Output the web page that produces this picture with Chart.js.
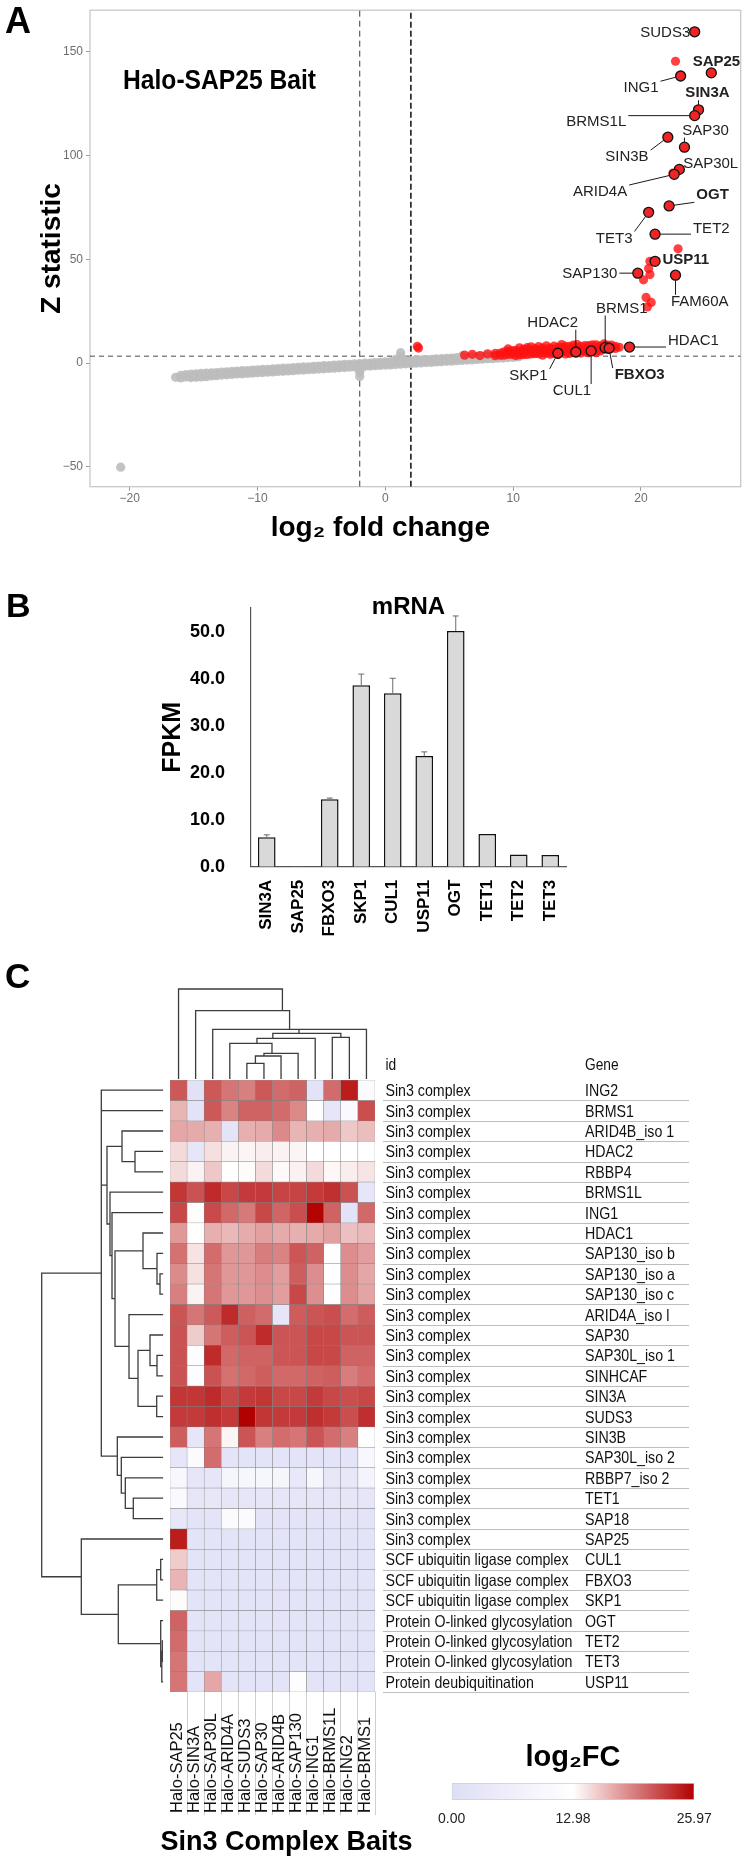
<!DOCTYPE html>
<html>
<head>
<meta charset="utf-8">
<script src="https://cdn.jsdelivr.net/npm/chart.js@4.4.1/dist/chart.umd.min.js"></script>
<style>
  html, body { margin: 0; padding: 0; background: #fff; }
  #page { position: relative; width: 747px; height: 1860px; overflow: hidden; }
  canvas { position: absolute; }
  .tag { position: absolute; font-family: 'Liberation Sans', Arial, sans-serif; font-weight: bold; color: #000; white-space: nowrap; }
</style>
</head>
<body>
<div id="page">
  <canvas id="cA" width="747" height="560" style="left:0;top:0;width:747px;height:560px"></canvas>
  <canvas id="cB" width="747" height="385" style="left:0;top:575px;width:747px;height:385px"></canvas>
  <canvas id="cTop" width="747" height="112" style="left:0;top:970px;width:747px;height:112px"></canvas>
  <canvas id="cLeft" width="175" height="652" style="left:0;top:1060px;width:175px;height:652px"></canvas>
  <canvas id="cHeat" width="747" height="820" style="left:0;top:1040px;width:747px;height:820px"></canvas>
  <canvas id="cBar" width="300" height="100" style="left:420px;top:1730px;width:300px;height:100px"></canvas>

  <div class="tag" style="left:5px;top:3px;font-size:36px;line-height:36px">A</div>
  <div class="tag" style="left:6px;top:588px;font-size:34px;line-height:34px">B</div>
  <div class="tag" style="left:5px;top:958px;font-size:35px;line-height:35px">C</div>
  <div class="tag" style="left:123px;top:66px;font-size:28px;line-height:28px;transform:scaleX(0.88);transform-origin:0 0">Halo-SAP25 Bait</div>
</div>
<script>
const FONT = "'Liberation Sans', Arial, Helvetica, sans-serif";
Chart.defaults.font.family = FONT;
Chart.defaults.color = '#000';

/* ---------- data: panel A (volcano) ---------- */

// each row: [log2 fold change, Z statistic, Z statistic, ...] for the non-enriched proteins
const grayBand = [
  [-20.7,-50.2],[-16.4,-6.9],[-16.0,-7.2,-5.9],[-15.6,-6.8,-5.6],[-15.2,-6.5,-5.4,-7.0],
  [-14.8,-6.9,-5.2,-6.2],[-14.4,-6.7,-5.0,-5.9],[-14.0,-6.6,-4.9,-5.7],[-13.6,-6.2,-4.8,-5.5],
  [-13.2,-6.1,-4.6,-5.3],[-12.8,-5.8,-4.4],[-12.4,-5.7,-4.2,-4.9],[-12.0,-5.5,-4.0,-4.8],
  [-11.6,-5.3,-3.9,-4.6],[-11.2,-5.2,-3.7,-4.4],[-10.8,-5.0,-3.6,-4.3],[-10.4,-4.9,-3.4,-4.1],
  [-10.0,-4.7,-3.3,-3.9],[-9.6,-4.6,-3.1,-3.8],[-9.2,-4.4,-3.0,-3.6],[-8.8,-4.3,-2.8,-3.5],
  [-8.4,-4.1,-2.7,-3.3],[-8.0,-4.0,-2.5,-3.2],[-7.6,-3.8,-2.4,-3.0],[-7.2,-3.7,-2.2,-2.9],
  [-6.8,-3.5,-2.1,-2.7],[-6.4,-3.4,-1.9,-2.6],[-6.0,-3.2,-1.8,-2.4],[-5.6,-3.1,-1.6,-2.3],
  [-5.2,-2.9,-1.5,-2.1],[-4.8,-2.8,-1.3,-2.0],[-4.4,-2.6,-1.2,-1.8],[-4.0,-2.5,-1.0,-1.7],
  [-3.6,-2.3,-0.9,-1.5],[-3.2,-2.2,-0.7,-1.4],[-2.8,-2.0,-0.6,-1.2],[-2.4,-1.9,-0.4,-1.1],
  [-2.0,-6.5,-4.5,-3.0,-1.8,-0.3],[-1.6,-1.6,-0.1,-0.9],[-1.2,-1.5,0.0,-0.7],[-0.8,-1.3,0.2,-0.6],
  [-0.4,-1.2,0.3,-0.4],[0.0,-1.0,0.5,-0.3],[0.4,-0.9,0.6,-0.1],[0.8,-0.7,0.8,1.8],
  [1.2,-0.6,0.9,3.2,5.0],[1.6,-0.4,1.1,0.3],[2.0,-0.3,1.2,0.5],[2.4,-0.1,1.4,0.6],
  [2.8,0.0,1.5,0.8],[3.2,0.2,1.7,0.9],[3.6,0.3,1.8,1.1],[4.0,0.5,2.0,1.2],[4.4,0.6,2.1,1.4],
  [4.8,0.8,2.3,1.5],[5.2,0.9,2.4,1.7],[5.6,1.1,2.6,1.8],[6.0,1.2,2.7,2.0,3.4],[6.4,1.4,2.9,2.1],
  [6.8,1.5,3.0,2.3],[7.2,1.7,3.2,2.4],[7.6,1.8,3.3,2.6],[8.0,2.0,3.5,2.7],[8.4,2.1,3.6,2.9],
  [8.8,2.3,3.8,3.0],[9.2,2.4,3.9,3.2],[9.6,2.6,3.1],[10.0,2.7,3.4],[10.4,2.9]
];

// each row: [log2 fold change, Z statistic, ...] for the enriched proteins without a label
const redBand = [
  [2.5,8.0],[2.6,7.2],[6.2,3.8],[6.8,4.2],[7.4,3.6],[8.0,4.4],[8.6,3.5,4.6],[9.0,4.8,3.7],
  [9.3,3.8,5.4],[9.6,5.6,4.1,6.8],[9.9,4.2,6.0],[10.2,6.1,3.6,4.9],[10.5,7.3,3.9,5.3],
  [10.8,5.0,6.6,4.0],[11.1,6.5,4.1,7.4],[11.4,7.8,5.6,4.4],[11.7,7.0,4.5,5.9],[12.0,4.5,6.3,7.9],
  [12.3,6.0,3.8,7.2],[12.6,8.3,4.8,6.6],[12.9,7.2,5.2,4.2],[13.2,6.6,8.1,4.6],[13.5,4.2,7.6,5.8],
  [13.8,7.6,8.9,5.1],[14.1,5.6,8.0,4.4],[14.4,8.0,4.6,6.7],[14.7,6.8,5.1,8.6],[15.0,5.0,7.4,8.9],
  [15.3,7.9,6.0,4.8],[15.6,6.0,8.4,5.4],[15.9,8.4,4.9,7.1],[16.2,7.0,8.8,5.6],[16.5,8.8,6.2,5.0],
  [16.8,5.8,8.2,7.3],[17.1,8.2,6.6,9.2],[17.4,6.6,8.6],[17.7,8.6,7.2],[18.0,8.0,7.0],[18.3,7.6],
  [22.7,145.4],[22.9,55.0],[20.7,49.0,42.6],[20.6,45.5],[20.2,40.1],[20.4,31.6],[20.8,29.2],
  [20.5,27.0],[22.5,91.5]
];

const hitNames = ['SUDS3','SAP25','ING1','SIN3A','BRMS1L','SIN3B','SAP30','SAP30L','ARID4A','OGT','TET3',
  'TET2','USP11','SAP130','FAM60A','BRMS1','HDAC2','HDAC1','SKP1','CUL1','FBXO3'];
const hitX = [24.2,25.5,23.1,24.5,24.2,22.1,23.4,23.0,22.6,22.2,20.6,21.1,21.1,19.75,22.7,17.2,14.9,19.1,13.5,16.1,17.5];
const hitY = [159.6,139.8,138.3,122.0,119.2,108.8,104.0,93.3,90.9,75.7,72.6,62.1,49.0,43.3,42.3,7.4,5.3,7.7,4.7,5.8,7.1];
const hitBold = ['SAP25','SIN3A','OGT','USP11','FBXO3'];
// label centres, in data units
const labelX = [21.9,25.9,20.0,25.2,16.5,18.9,25.05,25.45,16.8,25.6,17.9,25.5,23.5,16.0,24.6,18.5,13.1,24.1,11.2,14.6,19.9];
const labelY = [159.0,144.9,132.4,130.0,116.1,99.2,112.0,96.0,82.4,80.8,60.0,64.4,49.9,42.8,29.5,26.3,19.4,10.6,-6.2,-13.5,-5.8];

const zCut = 3.3;
const fcCuts = [-2, 2];

/* ---------- data: panel B (mRNA) ---------- */

const mrnaGenes = ['SIN3A','SAP25','FBXO3','SKP1','CUL1','USP11','OGT','TET1','TET2','TET3'];
const fpkm = [6.3, 0.1, 14.4, 38.7, 37.0, 23.6, 50.3, 7.0, 2.6, 2.5];
const fpkmErr = [0.5, 0, 0.25, 2.4, 3.2, 0.9, 3.2, 0, 0, 0];

/* ---------- data: panel C (heatmap) ---------- */

const baits = ['Halo-SAP25','Halo-SIN3A','Halo-SAP30L','Halo-ARID4A','Halo-SUDS3','Halo-SAP30',
  'Halo-ARID4B','Halo-SAP130','Halo-ING1','Halo-BRMS1L','Halo-ING2','Halo-BRMS1'];
const geneIds = [].concat(Array(23).fill('Sin3 complex'), Array(3).fill('SCF ubiquitin ligase complex'),
  Array(3).fill('Protein O-linked glycosylation'), ['Protein deubiquitination']);
const geneNames = ['ING2','BRMS1','ARID4B_iso 1','HDAC2','RBBP4','BRMS1L','ING1','HDAC1','SAP130_iso b',
  'SAP130_iso a','SAP130_iso c','ARID4A_iso l','SAP30','SAP30L_iso 1','SINHCAF','SIN3A','SUDS3','SIN3B',
  'SAP30L_iso 2','RBBP7_iso 2','TET1','SAP18','SAP25','CUL1','FBXO3','SKP1','OGT','TET2','TET3','USP11'];
const log2fc = [
  [21.5,1.5,21.5,20.0,19.5,21.5,20.5,21.0,2.0,20.5,24.5,11.5],
  [16.8,2.0,21.5,19.3,21.0,21.0,20.5,19.0,12.5,3.0,11.0,22.0],
  [17.5,17.3,17.0,2.5,17.0,17.3,19.0,16.8,17.0,17.3,15.8,16.3],
  [14.8,3.0,14.6,13.6,13.5,13.9,13.6,13.5,13.0,13.0,13.0,13.0],
  [14.8,13.6,15.8,13.0,13.2,14.8,13.3,13.7,14.8,13.4,13.9,14.3],
  [23.2,21.8,23.8,22.3,23.0,23.0,22.5,22.5,23.0,23.5,21.8,3.0],
  [22.3,12.0,22.2,20.6,19.8,22.3,20.8,22.0,25.8,21.0,2.0,20.6],
  [18.2,13.0,17.0,16.6,17.2,17.8,17.3,17.0,17.3,17.8,16.2,16.5],
  [20.2,14.4,20.4,18.3,18.3,19.6,19.3,21.6,21.0,12.5,18.8,17.9],
  [18.9,14.5,20.0,18.3,18.3,18.8,17.9,21.2,18.8,12.5,18.8,17.5],
  [19.5,13.6,20.0,18.3,18.3,18.7,17.9,22.3,18.7,12.5,18.8,17.6],
  [21.7,20.0,21.4,23.8,21.1,20.5,3.0,21.3,21.7,22.0,20.4,21.3],
  [21.8,15.6,20.0,21.2,21.7,23.8,21.7,21.7,22.3,22.3,21.7,21.7],
  [21.8,12.3,23.8,20.6,21.0,21.0,21.6,21.7,22.3,22.3,21.0,21.0],
  [21.8,12.3,21.8,20.2,20.6,21.2,20.6,20.6,21.0,21.2,19.6,20.4],
  [23.2,23.2,23.8,22.3,23.0,23.2,22.3,22.3,23.0,22.3,22.0,22.3],
  [23.0,23.0,23.6,23.0,25.9,23.2,23.0,23.0,23.6,23.0,22.0,23.6],
  [21.2,3.0,20.0,13.5,21.7,19.5,20.4,20.0,21.7,20.4,19.5,12.5],
  [3.0,11.5,20.4,2.5,2.5,2.5,2.5,2.5,2.5,2.5,2.5,10.0],
  [10.0,3.0,3.0,9.0,9.5,9.5,9.0,4.0,9.5,3.5,3.5,8.5],
  [11.0,3.0,3.5,3.0,3.0,3.0,3.0,3.0,3.0,3.0,3.0,3.0],
  [3.5,2.5,2.5,11.5,11.5,2.5,2.5,2.5,2.5,2.5,2.5,2.5],
  [24.5,2.5,2.5,2.5,2.5,2.5,2.5,2.5,2.5,2.5,2.5,2.5],
  [15.6,2.5,2.5,2.5,2.5,2.5,2.5,2.5,2.5,2.5,2.5,2.5],
  [16.8,2.5,2.5,2.5,2.5,2.5,2.5,2.5,2.5,2.5,2.5,2.5],
  [13.2,2.5,2.5,2.5,2.5,2.5,2.5,2.5,2.5,2.5,2.5,2.5],
  [21.0,2.5,2.5,2.5,2.5,2.5,2.5,2.5,2.5,2.5,2.5,2.5],
  [20.5,2.5,2.5,2.5,2.5,2.5,2.5,2.5,2.5,2.5,2.5,2.5],
  [20.0,2.5,2.5,2.5,2.5,2.5,2.5,2.5,2.5,2.5,2.5,2.5],
  [20.0,2.5,17.5,2.5,2.5,2.5,2.5,12.3,2.5,2.5,2.5,2.5]
];
const fcScale = [0, 12.98, 25.97];

// column tree: [xLeft, xRight, height, leftChildHeight, rightChildHeight]  (x = column index)
const colTree = [
  [0, 6.08, 90, 0, 68.3],
  [1, 6.5, 68.3, 0, 49.7],
  [2, 11, 49.7, 0, 0],
  [7.05, 7.05, 49.7, 45.7, 45.7],
  [5.52, 9.5, 45.7, 40.7, 41.7],
  [9, 10, 41.7, 0, 0],
  [4.59, 8, 40.7, 35.7, 0],
  [3, 5.47, 35.7, 0, 25.7],
  [5.0, 7, 25.7, 23, 0],
  [4.5, 6, 23, 15.7, 0],
  [4, 5, 15.7, 0, 0]
];
// row tree: [rowTop, rowBottom, height, topChildHeight, bottomChildHeight]  (row centre = index + 0.5)
const rowTree = [
  [3.5, 4.5, 28.3, 0, 0],
  [2.5, 4.0, 41.3, 0, 28.3],
  [9.5, 10.5, 3.3, 0, 0],
  [8.5, 10.0, 6.3, 0, 3.3],
  [7.5, 9.25, 20.3, 0, 6.3],
  [13.5, 14.5, 6.3, 0, 0],
  [12.5, 14.0, 13.3, 0, 6.3],
  [15.5, 16.5, 6.6, 0, 0],
  [13.25, 16.0, 25.3, 13.3, 6.6],
  [11.5, 14.63, 34.3, 0, 25.3],
  [8.38, 13.06, 48.3, 20.3, 34.3],
  [6.5, 10.72, 51.3, 0, 48.3],
  [5.5, 8.61, 53.3, 0, 51.3],
  [3.25, 7.06, 56.3, 41.3, 53.3],
  [20.5, 21.5, 30, 0, 0],
  [19.5, 21.0, 38, 0, 30],
  [18.5, 20.25, 42, 0, 38],
  [17.5, 19.38, 46, 0, 42],
  [0.5, 18.44, 62, 0, 46],
  [1.5, 1.5, 62, 0, 0],
  [5.15, 5.15, 62, 56.3, 56.3],
  [23.5, 24.5, 2.6, 0, 0],
  [24.0, 25.5, 6.6, 2.6, 0],
  [27.5, 28.5, 1.0, 0, 0],
  [28.0, 29.5, 1.5, 1.0, 0],
  [26.5, 28.75, 2.6, 0, 1.5],
  [24.75, 27.63, 45, 6.6, 2.6],
  [22.5, 26.19, 82, 0, 45],
  [9.47, 24.35, 121.6, 62, 82]
];

/* ---------- helpers ---------- */

function cellColor(v) {
  const lo = [222, 222, 246], mid = [255, 255, 255], hi = [178, 0, 0];
  let a, b, t;
  if (v <= fcScale[1]) { a = lo; b = mid; t = v / fcScale[1]; }
  else { a = mid; b = hi; t = (v - fcScale[1]) / (fcScale[2] - fcScale[1]); }
  t = Math.max(0, Math.min(1, t));
  const c = a.map((x, i) => Math.round(x + (b[i] - x) * t));
  return `rgb(${c[0]},${c[1]},${c[2]})`;
}

const toPoints = rows => rows.flatMap(r => r.slice(1).map(z => ({ x: r[0], y: z })));

function narrowText(ctx, text, x, y, sx) {
  ctx.save();
  ctx.translate(x, y);
  ctx.scale(sx, 1);
  ctx.fillText(text, 0, 0);
  ctx.restore();
}

const base = { responsive: false, animation: false, devicePixelRatio: 1 };
const noLegend = { legend: { display: false }, tooltip: { enabled: false } };

/* ---------- panel A ---------- */

const frame = {
  id: 'frame',
  beforeDatasetsDraw(chart) {
    const { ctx, chartArea: a } = chart;
    ctx.save();
    ctx.strokeStyle = '#c4c4c4';
    ctx.lineWidth = 1.2;
    ctx.strokeRect(a.left, a.top, a.right - a.left, a.bottom - a.top);
    ctx.restore();
  }
};

const hitLabels = {
  id: 'hitLabels',
  afterDatasetsDraw(chart) {
    const { ctx, scales: { x, y } } = chart;
    ctx.save();
    ctx.textAlign = 'center';
    ctx.textBaseline = 'middle';
    ctx.strokeStyle = '#1a1a1a';
    ctx.fillStyle = '#222';
    ctx.lineWidth = 1;
    hitNames.forEach((name, i) => {
      ctx.font = (hitBold.includes(name) ? 'bold ' : '') + '15px ' + FONT;
      const tx = x.getPixelForValue(labelX[i]), ty = y.getPixelForValue(labelY[i]);
      const px = x.getPixelForValue(hitX[i]), py = y.getPixelForValue(hitY[i]);
      const w = ctx.measureText(name).width;
      const l = tx - w / 2 - 2, r = tx + w / 2 + 2, t = ty - 7, b = ty + 7;
      const sx = Math.min(Math.max(px, l), r), sy = Math.min(Math.max(py, t), b);
      const d = Math.hypot(px - sx, py - sy);
      if (d > 9) {
        const ex = px - (px - sx) * 5 / d, ey = py - (py - sy) * 5 / d;
        ctx.beginPath(); ctx.moveTo(sx, sy); ctx.lineTo(ex, ey); ctx.stroke();
      }
      ctx.fillText(name, tx, ty);
    });
    ctx.restore();
  }
};

const xMinA = -23.1, xMaxA = 27.8, yMinA = -59.6, yMaxA = 170;

new Chart(document.getElementById('cA'), {
  type: 'scatter',
  data: {
    datasets: [
      { data: hitX.map((v, i) => ({ x: v, y: hitY[i] })), pointRadius: 5, backgroundColor: '#f02424',
        borderColor: '#111', borderWidth: 1.3 },
      { data: toPoints(redBand), pointRadius: 4.6, backgroundColor: 'rgba(255,18,18,0.8)', borderWidth: 0 },
      { data: toPoints(grayBand), pointRadius: 4.6, backgroundColor: 'rgba(188,188,188,0.9)', borderWidth: 0 },
      { data: [{ x: xMinA, y: zCut }, { x: xMaxA, y: zCut }], showLine: true, pointRadius: 0,
        borderColor: '#4a4a4a', borderWidth: 1, borderDash: [5, 4] },
      { data: [{ x: fcCuts[0], y: yMinA }, { x: fcCuts[0], y: yMaxA }], showLine: true, pointRadius: 0,
        borderColor: '#3a3a3a', borderWidth: 1, borderDash: [6, 4] },
      { data: [{ x: fcCuts[1], y: yMinA }, { x: fcCuts[1], y: yMaxA }], showLine: true, pointRadius: 0,
        borderColor: '#1a1a1a', borderWidth: 1.6, borderDash: [6, 3] }
    ]
  },
  options: {
    ...base,
    layout: { padding: { left: 0, right: 3, top: 6, bottom: 0 } },
    plugins: noLegend,
    scales: {
      x: {
        type: 'linear', min: xMinA, max: xMaxA,
        afterFit: s => { s.height = 73.3; },
        ticks: { stepSize: 10, includeBounds: false, color: '#6e6e6e', padding: 1, font: { size: 12 },
          callback: v => v < 0 ? '\u2212' + Math.abs(v) : String(v) },
        grid: { drawOnChartArea: false, drawTicks: true, tickLength: 4, color: '#9a9a9a' },
        border: { display: false },
        title: { display: true, text: 'log\u2082 fold change\u2002\u2002\u2002\u2002\u2002',
          font: { size: 28, weight: 'bold' }, color: '#000', padding: { top: 0, bottom: 15 } }
      },
      y: {
        type: 'linear', min: yMinA, max: yMaxA,
        afterFit: s => { s.width = 90; },
        ticks: { stepSize: 50, includeBounds: false, color: '#6e6e6e', padding: 3, font: { size: 12 },
          callback: v => v < 0 ? '\u2212' + Math.abs(v) : String(v) },
        grid: { drawOnChartArea: false, drawTicks: true, tickLength: 4, color: '#9a9a9a' },
        border: { display: false },
        title: { display: true, text: 'Z statistic', font: { size: 28, weight: 'bold' }, color: '#000',
          padding: { top: 35, bottom: 0 } }
      }
    }
  },
  plugins: [frame, hitLabels]
});

/* ---------- panel B ---------- */

const errorBars = {
  id: 'errorBars',
  afterDatasetsDraw(chart) {
    const { ctx, scales: { x, y } } = chart;
    ctx.save();
    ctx.strokeStyle = '#6b6b6b';
    ctx.lineWidth = 1;
    fpkm.forEach((v, i) => {
      if (!fpkmErr[i]) return;
      const px = x.getPixelForValue(i), y0 = y.getPixelForValue(v), y1 = y.getPixelForValue(v + fpkmErr[i]);
      ctx.beginPath();
      ctx.moveTo(px, y0); ctx.lineTo(px, y1);
      ctx.moveTo(px - 3, y1); ctx.lineTo(px + 3, y1);
      ctx.stroke();
    });
    ctx.restore();
  }
};

new Chart(document.getElementById('cB'), {
  type: 'bar',
  data: {
    labels: mrnaGenes,
    datasets: [{ data: fpkm, backgroundColor: '#d9d9d9', borderColor: '#111', borderWidth: 1.5,
      barPercentage: 0.56, categoryPercentage: 1 }]
  },
  options: {
    ...base,
    layout: { padding: { left: 140, right: 181, top: 0, bottom: 0 } },
    plugins: {
      ...noLegend,
      title: { display: true, text: 'mRNA', fullSize: false, font: { size: 24, weight: 'bold' }, color: '#000',
        padding: { top: 17.6, bottom: -13.4 } }
    },
    scales: {
      x: {
        afterFit: s => { s.height = 93.3; },
        ticks: { minRotation: 90, maxRotation: 90, autoSkip: false, padding: 5, color: '#000',
          font: { size: 17, weight: 'bold' } },
        grid: { display: false },
        border: { display: true, color: '#555', width: 1.2 }
      },
      y: {
        min: 0, max: 55.2,
        afterFit: s => { s.width = 111; },
        ticks: { stepSize: 10, includeBounds: false, padding: 18, color: '#000', font: { size: 18, weight: 'bold' },
          callback: v => Number(v).toFixed(1) },
        grid: { display: false },
        border: { display: true, color: '#555', width: 1.2 },
        title: { display: true, text: 'FPKM', font: { size: 25, weight: 'bold' }, color: '#000',
          padding: { top: 18, bottom: 0 } }
      }
    }
  },
  plugins: [errorBars]
});

/* ---------- panel C: dendrograms ---------- */

const treeLine = { showLine: true, pointRadius: 0, borderColor: '#3c3c3c', borderWidth: 1.3, tension: 0 };

new Chart(document.getElementById('cTop'), {
  type: 'scatter',
  data: {
    datasets: colTree.map(t => ({ ...treeLine,
      data: [{ x: t[0], y: t[3] }, { x: t[0], y: t[2] }, { x: t[1], y: t[2] }, { x: t[1], y: t[4] }] }))
  },
  options: {
    ...base,
    layout: { padding: { left: 170, right: 372, top: 15, bottom: 3 } },
    plugins: noLegend,
    scales: {
      x: { type: 'linear', min: -0.5, max: baits.length - 0.5, display: false },
      y: { type: 'linear', min: 0, max: 94, display: false }
    }
  }
});

new Chart(document.getElementById('cLeft'), {
  type: 'scatter',
  data: {
    datasets: rowTree.map(t => ({ ...treeLine,
      data: [{ x: t[3], y: t[0] }, { x: t[2], y: t[0] }, { x: t[2], y: t[1] }, { x: t[4], y: t[1] }] }))
  },
  options: {
    ...base,
    layout: { padding: { left: 35, right: 11.7, top: 20, bottom: 20 } },
    plugins: noLegend,
    scales: {
      x: { type: 'linear', min: 0, max: 128.3, reverse: true, display: false },
      y: { type: 'linear', min: 0, max: geneNames.length, reverse: true, display: false }
    }
  }
});

/* ---------- panel C: heatmap ---------- */

const geneTable = {
  id: 'geneTable',
  afterDraw(chart) {
    const { ctx, scales: { y }, chartArea: a } = chart;
    const idX = a.right + 10.5, geneX = a.right + 210, lineL = a.right + 8, lineR = a.right + 314;
    ctx.save();
    ctx.fillStyle = '#111';
    ctx.textBaseline = 'middle';
    ctx.textAlign = 'left';
    ctx.font = '16px ' + FONT;
    narrowText(ctx, 'id', idX, a.top - 14, 0.86);
    narrowText(ctx, 'Gene', geneX, a.top - 14, 0.86);
    ctx.font = '16.5px ' + FONT;
    geneNames.forEach((g, i) => {
      const yc = y.getPixelForValue(i + 0.5) + 1.5;
      ctx.fillStyle = '#111';
      narrowText(ctx, geneIds[i], idX, yc, 0.86);
      narrowText(ctx, g, geneX, yc, 0.86);
      const yb = Math.round(y.getPixelForValue(i + 1)) + 0.5;
      ctx.strokeStyle = '#bdbdbd';
      ctx.lineWidth = 1;
      ctx.beginPath(); ctx.moveTo(lineL, yb); ctx.lineTo(lineR, yb); ctx.stroke();
    });
    ctx.restore();
  }
};

const baitLabels = {
  id: 'baitLabels',
  afterDraw(chart) {
    const { ctx, scales: { x }, chartArea: a } = chart;
    ctx.save();
    ctx.fillStyle = '#111';
    ctx.font = '16.5px ' + FONT;
    ctx.textAlign = 'left';
    ctx.textBaseline = 'middle';
    baits.forEach((b, i) => {
      ctx.save();
      ctx.translate(x.getPixelForValue(i) - 1.5, a.bottom + 121);
      ctx.rotate(-Math.PI / 2);
      ctx.fillText(b, 0, 0);
      ctx.restore();
    });
    // axis caption, drawn here so that it is not squeezed to the heatmap width
    ctx.font = 'bold 27px ' + FONT;
    ctx.fillStyle = '#000';
    ctx.textAlign = 'center';
    ctx.fillText('Sin3 Complex Baits', (a.left + a.right) / 2 + 14, a.bottom + 151);
    ctx.restore();
  }
};

new Chart(document.getElementById('cHeat'), {
  type: 'bar',
  data: {
    labels: baits,
    datasets: log2fc.map(row => ({
      data: row.map(() => 1),
      backgroundColor: row.map(cellColor),
      borderColor: '#808080', borderWidth: 0.5, borderSkipped: false,
      barPercentage: 1, categoryPercentage: 1
    }))
  },
  options: {
    ...base,
    layout: { padding: { left: 170, right: 372, top: 40, bottom: 0 } },
    plugins: noLegend,
    scales: {
      x: {
        stacked: true,
        afterFit: s => { s.height = 168; },
        ticks: { display: false },
        grid: { drawOnChartArea: false, drawTicks: true, tickLength: 123, offset: true,
          color: c => c.index === 0 ? 'rgba(0,0,0,0)' : '#cfcfcf' },
        border: { display: false }
      },
      y: { stacked: true, min: 0, max: geneNames.length, reverse: true, display: false }
    }
  },
  plugins: [geneTable, baitLabels]
});

/* ---------- panel C: colour key ---------- */

new Chart(document.getElementById('cBar'), {
  type: 'bar',
  data: {
    labels: [''],
    datasets: [{
      data: [[fcScale[0], fcScale[2]]],
      backgroundColor: c => {
        const a = c.chart.chartArea;
        if (!a) return '#fff';
        const g = c.chart.ctx.createLinearGradient(a.left, 0, a.right, 0);
        [0, 0.25, 0.5, 0.75, 1].forEach(f => g.addColorStop(f, cellColor(fcScale[2] * f)));
        return g;
      },
      borderColor: '#cfcfcf', borderWidth: 1, borderSkipped: false,
      barPercentage: 1, categoryPercentage: 1
    }]
  },
  options: {
    ...base,
    indexAxis: 'y',
    layout: { padding: { left: 31.7, right: 25.7, top: 0, bottom: 0 } },
    plugins: {
      ...noLegend,
      title: { display: true, text: 'log\u2082FC', font: { size: 29, weight: 'bold' }, color: '#000',
        padding: { top: 10.6, bottom: 7.6 } }
    },
    scales: {
      x: {
        type: 'linear', min: fcScale[0], max: fcScale[2],
        afterFit: s => { s.height = 30; },
        afterBuildTicks: s => { s.ticks = fcScale.map(v => ({ value: v })); },
        ticks: { padding: 3, color: '#222', font: { size: 14 }, callback: v => Number(v).toFixed(2) },
        grid: { display: false },
        border: { display: false }
      },
      y: { display: false }
    }
  }
});
</script>
</body>
</html>
